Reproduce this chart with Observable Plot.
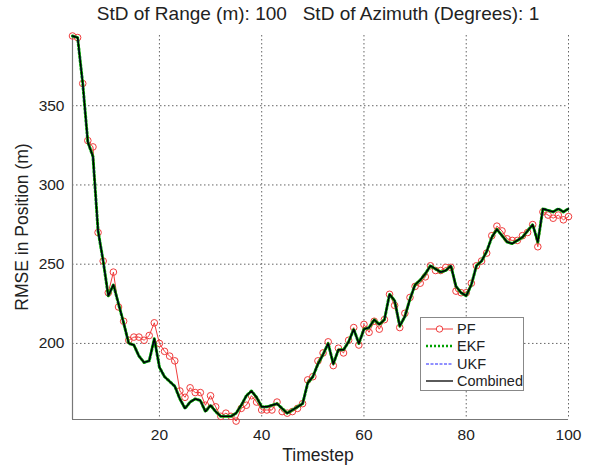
<!DOCTYPE html>
<html><head><meta charset="utf-8">
<script src="https://cdn.jsdelivr.net/npm/d3@7"></script>
<script src="https://cdn.jsdelivr.net/npm/@observablehq/plot@0.6"></script>
<style>
body{margin:0;background:#fff;}
#wrap{position:relative;width:591px;height:471px;font-family:"Liberation Sans",Arial,sans-serif;color:#222;overflow:hidden;}
#title{height:26px;line-height:28px;text-align:center;font-size:19px;white-space:pre;padding-left:45px;box-sizing:border-box;}
#xlabel{height:25px;line-height:18px;text-align:center;font-size:17.5px;padding-left:45px;box-sizing:border-box;}
#ylabel{position:absolute;left:22px;top:227px;transform:translate(-50%,-50%) rotate(-90deg);font-size:17.5px;white-space:nowrap;}
#legend{position:absolute;left:420px;top:317px;width:104px;height:74px;border:1px solid #888;background:#fff;box-sizing:border-box;padding-top:2px;}
.row{display:flex;align-items:center;height:17.5px;font-size:14.5px;}
.row svg{margin-left:5px;margin-right:4px;}
</style></head>
<body>
<div id="wrap">
<div id="title">StD of Range (m): 100   StD of Azimuth (Degrees): 1</div>
<div id="plot"></div>
<div id="xlabel">Timestep</div>
<div id="ylabel">RMSE in Position (m)</div>
<div id="legend"></div>
</div>
<script>
const timesteps = [3,4,5,6,7,8,9,10,11,12,13,14,15,16,17,18,19,20,21,22,23,24,25,26,27,28,29,30,31,32,33,34,35,36,37,38,39,40,41,42,43,44,45,46,47,48,49,50,51,52,53,54,55,56,57,58,59,60,61,62,63,64,65,66,67,68,69,70,71,72,73,74,75,76,77,78,79,80,81,82,83,84,85,86,87,88,89,90,91,92,93,94,95,96,97,98,99,100];
const pfValues = [394,393,364,328,324,270,252,232,245,223,214,202,204,204,202,205,213,200,195,192,189,170,166,172,169,169,161,167,160,154,156,154,151,159,161,167,163,158,158,158,163,157,156,157,159,162,177,179,189,194,201,186,197,194,202,210,199,212,207,214,209,215,231,224,210,219,229,236,238,242,249,246,246,248,248,233,232,232,238,249,252,257,268,274,271,266,265,265,268,270,275,261,283,281,279,281,278,280];
const ekfValues = [394,393,364,327,318,271,252,230,237,225,213,200,199,192,188,189,203,185,179,176,173,165,159,163,165,164,157,161,157,154,154,154,156,161,167,170,166,160,160,161,162,159,156,158,160,162,175,179,187,193,200,187,196,196,201,209,200,209,210,215,212,215,231,227,211,217,228,237,240,244,249,247,245,246,249,236,232,230,237,249,252,258,267,272,268,264,263,265,267,271,275,264,285,284,283,285,283,285];
const ukfValues = [394,393,364,327,318,271,252,230,237,225,213,200,199,192,188,189,203,185,179,176,173,165,159,163,165,164,157,161,157,154,154,154,156,161,167,170,166,160,160,161,162,159,156,158,160,162,175,179,187,193,200,187,196,196,201,209,200,209,210,215,212,215,231,227,211,217,228,237,240,244,249,247,245,246,249,236,232,230,237,249,252,258,267,272,268,264,263,265,267,271,275,264,285,284,283,285,283,285];
const combinedValues = [394,393,364,327,318,271,252,230,237,225,213,200,199,192,188,189,203,185,179,176,173,165,159,163,165,164,157,161,157,154,154,154,156,161,167,170,166,160,160,161,162,159,156,158,160,162,175,179,187,193,200,187,196,196,201,209,200,209,210,215,212,215,231,227,211,217,228,237,240,244,249,247,245,246,249,236,232,230,237,249,252,258,267,272,268,264,263,265,267,271,275,264,285,284,283,285,283,285];
const xTicks = [20,40,60,80,100];
const yTicks = [200,250,300,350];
const seriesNames = ["PF","EKF","UKF","Combined"];

const rows = (vals) => timesteps.map((t,i)=>({t, v: vals[i]}));
const pf = rows(pfValues), ekf = rows(ekfValues), ukf = rows(ukfValues), comb = rows(combinedValues);

const red = "#f03c3c";
const chart = Plot.plot({
  width: 591, height: 420,
  marginTop: 9, marginBottom: 27, marginLeft: 72, marginRight: 23,
  x: {domain: [3,100]},
  y: {domain: [152,394.3]},
  style: {fontFamily: "'Liberation Sans', Arial, sans-serif", fontSize: "15.5px", color: "#222", background: "#fff"},
  marks: [
    Plot.gridX(xTicks, {stroke: "#333", strokeOpacity: 0.75, strokeDasharray: "1.5,2.5"}),
    Plot.gridY(yTicks, {stroke: "#333", strokeOpacity: 0.75, strokeDasharray: "1.5,2.5"}),
    Plot.ruleX([3], {stroke: "#777", strokeWidth: 1.2}),
    Plot.ruleY([152], {stroke: "#777", strokeWidth: 1.2}),
    Plot.axisX({ticks: xTicks, tickSize: 0, tickPadding: 9, label: null, fontSize: 15.5}),
    Plot.axisY({ticks: yTicks, tickSize: 0, tickPadding: 8, label: null, fontSize: 15.5}),
    Plot.line(pf, {x: "t", y: "v", stroke: red, strokeWidth: 1}),
    Plot.dot(pf, {x: "t", y: "v", r: 3.3, stroke: red, strokeWidth: 1, fill: "none"}),
    Plot.line(ekf, {x: "t", y: "v", stroke: "#00a000", strokeWidth: 3, strokeDasharray: "2,2"}),
    Plot.line(ukf, {x: "t", y: "v", stroke: "#2020ff", strokeWidth: 1, strokeDasharray: "4,2"}),
    Plot.line(comb, {x: "t", y: "v", stroke: "#000", strokeWidth: 1.4})
  ]
});
document.getElementById("plot").appendChild(chart);

const styles = [
  {stroke: red, dash: null, w: 1, marker: true},
  {stroke: "#00a000", dash: "2,2", w: 2.5},
  {stroke: "#2020ff", dash: "3,1.5", w: 1},
  {stroke: "#000", dash: null, w: 1.3}
];
const leg = document.getElementById("legend");
seriesNames.forEach((name, i) => {
  const s = styles[i];
  const row = document.createElement("div");
  row.className = "row";
  row.innerHTML = `<svg width="27" height="10"><line x1="0" y1="5" x2="27" y2="5" stroke="${s.stroke}" stroke-width="${s.w}" ${s.dash ? `stroke-dasharray="${s.dash}"` : ""}/>${s.marker ? `<circle cx="13.5" cy="5" r="3.2" fill="#fff" stroke="${s.stroke}"/>` : ""}</svg><span>${name}</span>`;
  leg.appendChild(row);
});
</script>
</body></html>
